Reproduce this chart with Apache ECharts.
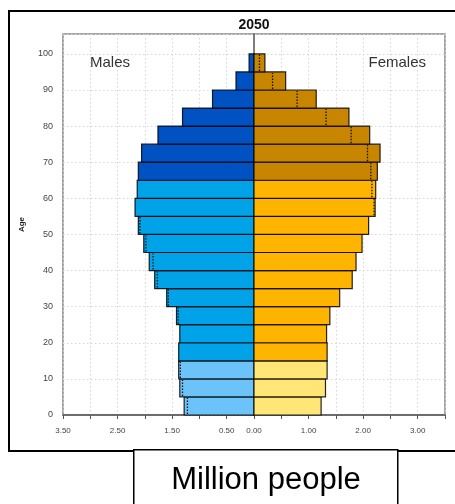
<!DOCTYPE html>
<html>
<head>
<meta charset="utf-8">
<script src="https://cdn.jsdelivr.net/npm/echarts@6/dist/echarts.min.js"></script>
<style>
  html, body { margin: 0; padding: 0; background: #fff; }
  #chart { width: 455px; height: 504px; }
</style>
</head>
<body>
<div id="chart"></div>
<script>
// Lower bound of each five-year age band
const ageStarts = [0, 5, 10, 15, 20, 25, 30, 35, 40, 45, 50, 55, 60, 65, 70, 75, 80, 85, 90, 95];
// Population in millions, 2050
const males   = [1.28, 1.36, 1.38, 1.38, 1.36, 1.42, 1.60, 1.82, 1.92, 2.02, 2.12, 2.18, 2.14, 2.12, 2.06, 1.76, 1.31, 0.76, 0.33, 0.09];
const females = [1.23, 1.31, 1.34, 1.34, 1.33, 1.39, 1.57, 1.80, 1.87, 1.98, 2.10, 2.22, 2.23, 2.26, 2.31, 2.12, 1.74, 1.14, 0.58, 0.20];
// Comparison markers drawn as dotted lines inside the bars (null = none)
const maleMarks   = [1.22, 1.31, 1.35, null, null, 1.39, 1.57, 1.77, 1.85, 1.98, 2.09, null, null, null, null, null, null, null, null, null];
const femaleMarks = [null, null, null, null, null, null, null, null, null, null, null, 2.20, 2.16, 2.14, 2.08, 1.78, 1.32, 0.79, 0.34, 0.10];
// Axis tick labels
const xTickLabels = { '-3.5': '3.50', '-2.5': '2.50', '-1.5': '1.50', '-0.5': '0.50', '0': '0.00', '1': '1.00', '2': '2.00', '3': '3.00' };
const yTickLabels = [0, 10, 20, 30, 40, 50, 60, 70, 80, 90, 100];

const maleColors   = ['#6cc3fa', '#00a2e8', '#0052c2'];
const femaleColors = ['#ffe676', '#ffb400', '#c88600'];

function groupOf(age) {
  if (age < 15) return 0;
  if (age < 65) return 1;
  return 2;
}

const maleData = ageStarts.map((a, i) => [-males[i], a, groupOf(a)]);
const femaleData = ageStarts.map((a, i) => [females[i], a, groupOf(a)]);
const maleMarkData = ageStarts.map((a, i) => [maleMarks[i] == null ? null : -maleMarks[i], a]).filter(d => d[0] != null);
const femaleMarkData = ageStarts.map((a, i) => [femaleMarks[i], a]).filter(d => d[0] != null);

function makeBarRenderer(palette) {
  return function (params, api) {
    const val = api.value(0);
    const start = api.value(1);
    const grp = api.value(2);
    const p0 = api.coord([0, start]);
    const p1 = api.coord([val, start + 5]);
    return {
      type: 'rect',
      shape: {
        x: Math.min(p0[0], p1[0]),
        y: p1[1],
        width: Math.abs(p1[0] - p0[0]),
        height: p0[1] - p1[1]
      },
      style: { fill: palette[grp], stroke: 'rgba(0,0,0,0.85)', lineWidth: 1.2 }
    };
  };
}

function markRenderer(params, api) {
  const val = api.value(0);
  const start = api.value(1);
  const a = api.coord([val, start]);
  const b = api.coord([val, start + 5]);
  return {
    type: 'line',
    shape: { x1: a[0], y1: a[1] - 1, x2: b[0], y2: b[1] + 1 },
    style: { stroke: '#111', lineWidth: 1.3, lineDash: [1.5, 1.5] }
  };
}

const chart = echarts.init(document.getElementById('chart'), null, { renderer: 'canvas' });

const fontFam = '"Liberation Sans", Arial, sans-serif';

chart.setOption({
  animation: false,
  backgroundColor: '#fff',
  textStyle: { fontFamily: fontFam },
  grid: {
    left: 63, right: 10, top: 34, bottom: 89,
    show: true, borderColor: '#8a8a8a', borderWidth: 1.5, backgroundColor: 'transparent'
  },
  xAxis: {
    type: 'value', min: -3.5, max: 3.5, interval: 0.5,
    axisLine: { show: true, onZero: false, lineStyle: { color: '#555', width: 1.5 } },
    axisTick: { show: true, length: 4, lineStyle: { color: '#555' } },
    axisLabel: {
      margin: 12, fontSize: 8, color: '#444', fontFamily: fontFam,
      formatter: v => xTickLabels[String(Math.round(v * 10) / 10)] || ''
    },
    splitLine: { show: true, lineStyle: { color: '#d6d6d6', type: [1.5, 2.5], width: 1 } }
  },
  yAxis: {
    type: 'value', min: 0, max: 105.5, interval: 10,
    name: 'Age', nameLocation: 'middle', nameGap: 37, nameRotate: 90,
    nameTextStyle: { fontSize: 8, fontWeight: 'bold', color: '#222', fontFamily: fontFam },
    axisLine: { show: true, lineStyle: { color: '#555', width: 1.5 } },
    axisTick: { show: true, length: 4, lineStyle: { color: '#555' } },
    axisLabel: {
      margin: 10, fontSize: 9, color: '#444', fontFamily: fontFam, showMaxLabel: false,
      formatter: v => (yTickLabels.indexOf(v) >= 0 ? String(v) : '')
    },
    splitLine: { show: true, lineStyle: { color: '#d6d6d6', type: [1.5, 2.5], width: 1 } }
  },
  series: [
    { type: 'custom', name: 'Males', renderItem: makeBarRenderer(maleColors), data: maleData, encode: { x: 0, y: 1 }, z: 2 },
    { type: 'custom', name: 'Females', renderItem: makeBarRenderer(femaleColors), data: femaleData, encode: { x: 0, y: 1 }, z: 2 },
    { type: 'custom', name: 'Males ref', renderItem: markRenderer, data: maleMarkData, encode: { x: 0, y: 1 }, z: 3 },
    { type: 'custom', name: 'Females ref', renderItem: markRenderer, data: femaleMarkData, encode: { x: 0, y: 1 }, z: 3 }
  ],
  graphic: [
    {
      type: 'rect', left: 8, top: 10, z: -1, silent: true,
      shape: { width: 470, height: 440 },
      style: { fill: 'transparent', stroke: '#000', lineWidth: 2 }
    },
    {
      type: 'text', x: 254, y: 25, z: 10,
      style: { text: '2050', font: 'bold 14px ' + fontFam, fill: '#111', textAlign: 'center', textVerticalAlign: 'middle' }
    },
    {
      type: 'text', x: 90, y: 63, z: 10,
      style: { text: 'Males', font: '15px ' + fontFam, fill: '#333', textAlign: 'left', textVerticalAlign: 'middle' }
    },
    {
      type: 'text', x: 426, y: 63, z: 10,
      style: { text: 'Females', font: '15px ' + fontFam, fill: '#333', textAlign: 'right', textVerticalAlign: 'middle' }
    },
    {
      type: 'rect', left: 133, top: 449, z: 10,
      shape: { width: 264, height: 70 },
      style: { fill: '#fff', stroke: '#000', lineWidth: 1.5 }
    },
    {
      type: 'text', x: 266, y: 480, z: 11,
      style: { text: 'Million people', font: '31px ' + fontFam, fill: '#000', textAlign: 'center', textVerticalAlign: 'middle' }
    }
  ]
});
</script>
</body>
</html>
